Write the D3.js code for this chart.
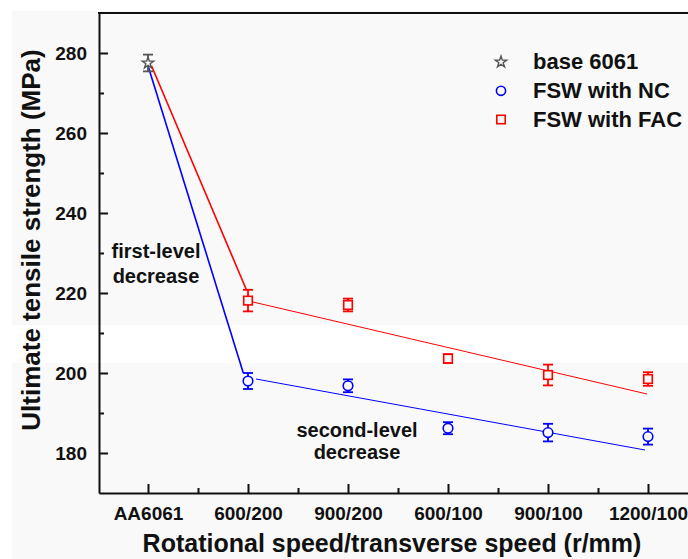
<!DOCTYPE html>
<html>
<head>
<meta charset="utf-8">
<script src="https://cdn.jsdelivr.net/npm/d3@7"></script>
<style>
  body { margin: 0; background: #fff; }
  svg { display: block; font-family: "Liberation Sans", Arial, sans-serif; font-weight: bold; }
</style>
</head>
<body>
<svg width="688" height="559"></svg>
<script>
// tick labels / categories
var categories = ["AA6061", "600/200", "900/200", "600/100", "900/100", "1200/100"];
var yTicks = [180, 200, 220, 240, 260, 280];

// base metal
var baseVal = [277.5];
var baseErr = [2.1];

// FSW with NC (600/200 .. 1200/100)
var ncVals = [198.0, 196.8, 186.2, 185.1, 184.1];
var ncErr = [2.0, 1.6, 1.5, 2.2, 2.0];

// FSW with FAC
var facVals = [218.1, 217.0, 203.6, 199.5, 198.5];
var facErr = [2.7, 1.6, 1.1, 2.6, 1.7];

// trend segments [category index, MPa]
var ncSteep = [[0, 276.8], [0.953, 200]];
var ncFit = [[1.08, 198.5], [4.97, 180.75]];
var facSteep = [[0.035, 276.8], [0.985, 220.75]];
var facFit = [[1.05, 217.75], [4.99, 194.75]];

var legendLabels = ["base 6061", "FSW with NC", "FSW with FAC"];

function createVisualization() {
    var svg = d3.select("svg"),
        left = 99, right = 688, top = 13, bottom = 493;

    // scanned-looking background
    svg.append("rect").attr("x", 12).attr("y", 11).attr("width", 676).attr("height", 548).attr("fill", "#f9f9f9");
    svg.append("rect").attr("x", 0).attr("y", 325).attr("width", 688).attr("height", 38).attr("fill", "#fff");

    var x = d3.scaleLinear().domain([-0.49, 5.4]).range([left, right]);
    var y = d3.scaleLinear().domain([170, 290]).range([bottom, top]);

    // axes
    var yAxis = svg.append("g")
        .attr("transform", "translate(" + left + ",0)")
        .call(d3.axisLeft(y).tickValues(yTicks).tickSizeInner(-9).tickSizeOuter(0).tickPadding(12));
    svg.append("g")
        .attr("transform", "translate(" + left + ",0)")
        .call(d3.axisLeft(y).tickValues(d3.range(190, 290, 20)).tickSizeInner(-5).tickSizeOuter(0).tickFormat(""))
        .select(".domain").remove();

    var xAxis = svg.append("g")
        .attr("transform", "translate(0," + bottom + ")")
        .call(d3.axisBottom(x).tickValues(d3.range(0, 6)).tickFormat(function(d) { return categories[d]; })
            .tickSizeInner(-9).tickSizeOuter(0).tickPadding(13.5));
    svg.append("g")
        .attr("transform", "translate(0," + bottom + ")")
        .call(d3.axisBottom(x).tickValues(d3.range(0.5, 5.5, 1)).tickSizeInner(-5).tickSizeOuter(0).tickFormat(""))
        .select(".domain").remove();

    svg.selectAll(".domain, .tick line").attr("stroke", "#111").attr("stroke-width", 2);
    svg.selectAll(".tick text").attr("fill", "#111").style("font-size", "19px").style("font-family", "Liberation Sans, Arial, sans-serif").style("font-weight", "bold");

    // top frame
    svg.append("line").attr("x1", left - 1).attr("x2", right).attr("y1", top).attr("y2", top)
        .attr("stroke", "#111").attr("stroke-width", 2);

    // axis titles
    svg.append("text")
        .attr("x", 392).attr("y", 551.5)
        .attr("text-anchor", "middle")
        .style("font-size", "25px")
        .attr("fill", "#111")
        .text("Rotational speed/transverse speed (r/mm)");
    svg.append("text")
        .attr("transform", "translate(39.5,240) rotate(-90)")
        .attr("text-anchor", "middle")
        .style("font-size", "26px")
        .attr("fill", "#111")
        .text("Ultimate tensile strength (MPa)");

    // trend lines
    var line = d3.line().x(function(d) { return x(d[0]); }).y(function(d) { return y(d[1]); });
    [[ncSteep, "#0000ff", 1.6], [ncFit, "#0000ff", 1], [facSteep, "#ff0000", 1.6], [facFit, "#ff0000", 1]].forEach(function(s) {
        svg.append("path").attr("d", line(s[0])).attr("fill", "none").attr("stroke", s[1]).attr("stroke-width", s[2]);
    });

    // error bars + markers
    function errorBars(vals, errs, offset, color) {
        var g = svg.append("g").attr("stroke", color).attr("stroke-width", 1.8).attr("fill", "none");
        vals.forEach(function(v, i) {
            var cx = x(i + offset);
            g.append("line").attr("x1", cx).attr("x2", cx).attr("y1", y(v - errs[i])).attr("y2", y(v + errs[i]));
            g.append("line").attr("x1", cx - 5).attr("x2", cx + 5).attr("y1", y(v - errs[i])).attr("y2", y(v - errs[i]));
            g.append("line").attr("x1", cx - 5).attr("x2", cx + 5).attr("y1", y(v + errs[i])).attr("y2", y(v + errs[i]));
        });
        return g;
    }

    var star = d3.symbol().type(d3.symbolStar).size(40);
    errorBars(baseVal, baseErr, 0, "#555");
    svg.selectAll(".base").data(baseVal).enter().append("path")
        .attr("d", star)
        .attr("transform", function(d, i) { return "translate(" + x(i) + "," + y(d) + ")"; })
        .attr("fill", "#f9f9f9").attr("stroke", "#555").attr("stroke-width", 1.4);

    errorBars(ncVals, ncErr, 1, "#0000ff");
    svg.selectAll(".nc").data(ncVals).enter().append("circle")
        .attr("cx", function(d, i) { return x(i + 1); })
        .attr("cy", function(d) { return y(d); })
        .attr("r", 4.8)
        .attr("fill", "#f9f9f9").attr("stroke", "#0000ff").attr("stroke-width", 1.6);

    errorBars(facVals, facErr, 1, "#ff0000");
    svg.selectAll(".fac").data(facVals).enter().append("rect")
        .attr("x", function(d, i) { return x(i + 1) - 4.3; })
        .attr("y", function(d) { return y(d) - 4.3; })
        .attr("width", 8.6).attr("height", 8.6)
        .attr("fill", "#f9f9f9").attr("stroke", "#ff0000").attr("stroke-width", 1.6);

    // legend
    var legend = svg.append("g").attr("transform", "translate(501,62)");
    legend.append("path").attr("d", star).attr("fill", "none").attr("stroke", "#555").attr("stroke-width", 1.4);
    legend.append("circle").attr("cy", 28.8).attr("r", 4.6).attr("fill", "none").attr("stroke", "#0000ff").attr("stroke-width", 1.6);
    legend.append("rect").attr("x", -4.2).attr("y", 57.5 - 4.2).attr("width", 8.4).attr("height", 8.4)
        .attr("fill", "none").attr("stroke", "#ff0000").attr("stroke-width", 1.6);
    legend.selectAll("text").data(legendLabels).enter().append("text")
        .attr("x", 32)
        .attr("y", function(d, i) { return 7 + i * 28.8; })
        .style("font-size", "22px")
        .attr("fill", "#111")
        .text(function(d) { return d; });

    // annotations
    var notes = [
        {x: 156, y: 258.3, lines: ["first-level", "decrease"], dy: 24.4},
        {x: 357, y: 436.7, lines: ["second-level", "decrease"], dy: 22.3}
    ];
    notes.forEach(function(n) {
        n.lines.forEach(function(t, i) {
            svg.append("text").attr("x", n.x).attr("y", n.y + i * n.dy)
                .attr("text-anchor", "middle").style("font-size", "20px").attr("fill", "#111").text(t);
        });
    });
}

createVisualization();
</script>
</body>
</html>
